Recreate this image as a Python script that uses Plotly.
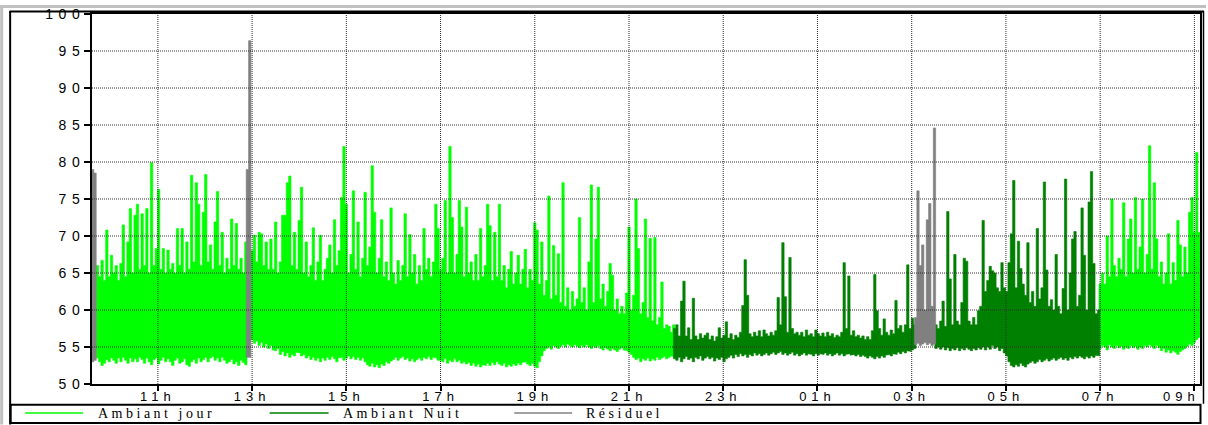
import plotly.graph_objects as go

# ---------------------------------------------------------------------------
# Niveaux sonores (dB) relevés par pas de 3 min : maximum et minimum de
# chaque pas, pour chaque période continue (heure de début du premier pas).
# ---------------------------------------------------------------------------
PAS_MIN = 3

jour1_debut = "09:43"
jour1_max = [66.0, 64.5, 66.7, 64.0, 70.8, 64.5,
             67.4, 65.0, 66.0, 64.0, 66.3, 71.5, 64.5, 69.2, 73.7, 65.0,
             72.8, 74.3, 65.5, 73.0, 66.0, 73.7, 65.0, 79.9, 66.0, 68.3,
             76.3, 65.5, 68.3, 65.0, 68.1, 65.5, 66.3, 65.0, 71.0, 66.0,
             71.0, 65.0, 69.2, 65.5, 78.2, 66.5, 77.2, 74.3, 66.0, 73.2,
             78.3, 66.5, 68.8, 65.5, 71.9, 76.0, 66.0, 70.5, 65.0, 67.0,
             65.5, 72.3, 66.0, 71.7, 65.5, 67.0, 65.0, 69.2]
jour1_min = [53.5, 53.0, 52.5, 52.8, 53.3, 53.0, 53.5, 53.2,
             52.8, 53.5, 53.0, 53.6, 53.2, 52.8, 53.5, 53.0,
             53.4, 53.0, 53.6, 53.3, 52.8, 53.5, 53.0, 52.6,
             53.3, 53.5, 52.7, 53.2, 53.6, 53.0, 53.4, 53.0,
             52.5, 53.2, 53.5, 52.8, 53.0, 53.4, 52.6, 52.4,
             53.0, 53.3, 52.8, 53.5, 53.0, 53.3, 53.6, 53.0,
             53.5, 53.7, 53.2, 53.5, 53.0, 53.6, 53.2, 52.8,
             53.0, 53.3, 52.7, 53.0, 52.5, 53.2, 52.9, 52.6]

jour2_debut = "13:00"
jour2_max = [
    68.0, 70.1, 66.5, 70.5, 70.3, 66.0, 69.2, 65.5, 69.6, 65.5,
    71.9, 65.0, 66.5, 72.8, 72.8, 77.2, 78.1, 66.0, 70.5, 65.5,
    72.1, 76.6, 65.0, 69.2, 64.5, 66.0, 71.1, 64.0, 66.5, 70.1,
    64.0, 65.5, 67.0, 68.8, 65.0, 72.2, 66.0, 68.0, 75.2, 82.1,
    74.3, 65.0, 67.5, 76.1, 65.5, 71.9, 64.5, 67.0, 75.9, 66.0,
    68.5, 79.5, 73.2, 65.0, 67.0, 72.2, 64.5, 66.5, 64.0, 73.8,
    65.0, 63.5, 66.7, 64.0, 66.0, 73.0, 64.5, 70.2, 65.0, 67.5,
    63.5, 66.0, 64.0, 71.0, 65.5, 67.0, 64.5, 66.5, 74.3, 71.0,
    65.5, 67.0, 74.8, 65.0, 82.1, 72.5, 65.0, 67.5, 74.8, 71.2,
    64.5, 73.9, 65.0, 66.5, 64.0, 67.5, 64.0, 71.0, 64.5, 66.0,
    74.3, 71.4, 64.0, 70.5, 64.5, 74.3, 64.0, 66.0, 63.0, 65.5,
    67.9, 63.5, 65.0, 67.4, 63.5, 65.5, 68.2, 63.0, 65.5, 64.0,
    71.8, 70.8, 63.5, 69.2, 62.0, 64.0, 75.4, 61.5, 68.7, 62.0,
    67.6, 61.0, 77.2, 60.5, 63.0, 60.0, 62.5, 60.5, 61.5, 72.5,
    61.0, 63.0, 60.0, 66.5, 76.9, 61.0, 69.6, 76.6, 61.5, 63.5,
    60.5, 62.5, 66.3, 64.7, 60.0, 61.5, 59.5, 60.5, 59.5, 62.3,
    71.2, 60.0, 62.0, 75.0, 68.3, 59.5, 61.0, 72.3, 59.0, 69.7,
    58.5, 69.8, 58.0, 59.0, 63.8, 57.5, 58.0, 57.8, 57.0, 58.0]
jour2_min = [
    56.0, 55.5, 55.8, 55.2, 55.6, 55.0, 55.4, 54.8, 55.2, 54.6,
    54.5, 54.8, 54.0, 54.4, 53.8, 54.2, 53.6, 54.0, 53.8, 54.3,
    54.2, 53.8, 54.0, 53.5, 53.8, 53.3, 53.6, 53.2, 53.5, 53.0,
    53.5, 53.2, 53.6, 53.3, 53.7, 53.4, 53.0, 53.5, 53.6, 53.2,
    53.5, 53.8, 53.4, 53.7, 53.3, 53.6, 53.2, 53.5, 53.0, 52.6,
    52.4, 52.8, 52.3, 52.6, 52.2, 52.7, 52.5, 53.0, 52.8, 53.1,
    53.3, 53.6, 53.2, 53.5, 53.7, 53.3, 53.5, 53.1, 53.4, 53.0,
    53.3, 53.5, 53.2, 53.6, 53.4, 53.7, 53.3, 53.6, 53.5, 53.2,
    53.2, 53.0, 53.4, 52.8, 53.2, 53.0, 53.4, 53.0, 53.2, 52.8,
    53.0, 52.7, 52.9, 52.5, 52.8, 52.4, 52.7, 52.3, 52.6, 52.5,
    52.8, 52.5, 52.9, 52.6, 53.0, 52.7, 52.5, 52.8, 52.3, 52.6,
    52.4, 52.7, 52.5, 52.8, 52.6, 52.9, 53.0, 52.7, 52.5, 52.8,
    52.4, 52.2, 53.0, 53.8, 54.5, 54.8, 55.0, 54.7, 55.2, 55.0,
    54.8, 55.1, 55.3, 55.0, 55.4, 55.2, 55.0, 55.3, 55.1, 54.9,
    55.2, 55.0, 55.3, 55.0, 54.8, 55.1, 54.9, 55.2, 54.8, 54.6,
    54.9, 54.7, 54.5, 54.8, 54.6, 54.4, 54.7, 54.9, 54.6, 54.5,
    54.3, 54.0, 53.6, 53.3, 53.5, 53.0, 53.4, 53.2, 53.5, 53.1,
    53.4, 53.2, 53.6, 53.3, 53.5, 53.7, 53.4, 53.6, 53.8, 53.7]

jour3_debut = "07:00"
jour3_max = [
    63.5, 65.0, 63.5, 70.0, 64.5, 75.0, 66.0, 64.5, 67.0, 65.5,
    74.5, 64.5, 69.6, 72.3, 65.0, 75.2, 65.5, 68.5, 75.0, 65.0,
    67.5, 82.2, 65.5, 77.2, 69.6, 64.5, 66.5, 63.5, 65.0, 70.3,
    63.5, 66.4, 64.0, 72.1, 68.8, 64.5, 68.5, 65.0, 73.2, 75.2,
    70.5, 81.3, 70.5]
jour3_min = [
    54.8, 55.2, 55.0, 54.6, 55.3, 55.0, 54.8, 55.2, 54.9, 55.1,
    54.7, 55.0, 54.8, 55.2, 54.9, 55.1, 54.7, 55.0, 54.8, 55.2,
    55.0, 55.3, 55.1, 54.8, 55.2, 54.9, 54.5, 54.8, 54.3, 54.6,
    54.2, 54.5, 54.3, 54.0, 54.4, 54.6, 54.8, 55.1, 55.4, 55.2,
    55.6, 56.0, 56.3]

nuit1_debut = "21:58"
nuit1_max = [
    57.5,
    58.0, 56.5, 61.2, 63.9, 56.5, 57.6, 56.0, 61.6, 56.5, 56.0,
    56.8, 56.2, 56.6, 56.9, 56.0, 56.5, 55.8, 56.4, 57.6, 56.2,
    56.6, 58.4, 56.2, 56.8, 56.0, 56.6, 56.3, 57.0, 60.6, 66.8,
    62.0, 56.8, 56.4, 57.0, 56.5, 57.2, 56.4, 57.3, 56.8, 56.5,
    57.0, 56.6, 57.2, 61.7, 58.0, 69.1, 61.8, 57.0, 67.1, 57.5,
    56.8, 57.0, 56.6, 57.0, 56.4, 57.3, 56.6, 56.8, 56.4, 57.3,
    56.8, 56.5, 56.9, 56.4, 57.0, 56.5, 56.8, 56.3, 56.6, 56.4,
    57.0, 66.4, 57.5, 64.6, 56.6, 57.2, 56.4, 56.6, 56.2, 56.5,
    56.0, 56.4, 56.0, 57.2, 64.8, 59.9, 57.5, 56.6, 58.8, 57.0,
    56.6, 57.3, 56.8, 61.3, 57.5, 57.9, 57.0, 58.0, 66.1, 57.5,
    58.9, 58.0]
nuit1_min = [
    53.4,
    53.2, 53.6, 53.0, 53.4, 53.7, 53.3, 53.5, 53.0, 53.6, 53.4,
    53.8, 53.2, 53.5, 53.7, 53.4, 53.6, 53.1, 53.5, 53.3, 53.6,
    53.0, 53.4, 53.6, 53.9, 53.5, 54.0, 53.7, 54.1, 53.8, 54.0,
    53.6, 54.0, 53.8, 54.2, 53.9, 54.1, 53.8, 54.0, 54.2, 53.9,
    54.1, 54.3, 54.0, 54.2, 54.4, 54.0, 54.2, 53.9, 54.1, 54.3,
    53.9, 54.1, 53.8, 54.0, 54.2, 53.9, 54.1, 54.0, 53.8, 54.1,
    53.9, 54.1, 54.0, 54.2, 53.9, 54.1, 53.8, 54.0, 54.2, 53.9,
    54.1, 53.8, 54.0, 54.1, 53.9, 54.0, 53.8, 54.0, 53.7, 53.9,
    53.7, 53.5, 53.8, 53.6, 53.4, 53.7, 53.5, 53.8, 53.6, 53.9,
    54.0, 53.8, 54.1, 54.0, 54.3, 54.1, 54.4, 54.2, 54.5, 54.4,
    54.6, 54.8]

nuit2_debut = "03:31"
nuit2_max = [
    58.0, 57.5, 58.5, 61.2, 57.8, 73.3, 64.2, 58.0, 67.5, 58.5,
    58.0, 61.0, 67.0, 66.6, 58.5, 58.0, 59.0, 58.0, 59.9, 60.5,
    72.1, 62.5, 64.0, 65.9, 65.3, 65.0, 63.0, 62.5, 66.4, 63.0,
    62.5, 66.4, 70.3, 77.5, 63.0, 69.3, 65.6, 63.5, 62.0, 69.1,
    61.0, 62.5, 60.5, 71.0, 61.5, 63.0, 77.3, 65.4, 60.5, 61.4,
    60.0, 67.5, 60.5, 59.5, 62.9, 77.7, 60.0, 65.0, 69.6, 70.6,
    60.5, 62.0, 73.8, 67.4, 60.0, 74.6, 78.7, 66.3, 59.5, 60.0]
nuit2_min = [
    54.8, 55.0, 54.7, 55.0, 54.6, 54.9, 54.5, 54.8, 54.6, 54.9,
    54.5, 54.8, 54.6, 54.9, 54.7, 54.5, 54.8, 54.6, 54.9, 54.7,
    55.0, 54.6, 55.0, 54.7, 55.2, 54.8, 55.0, 54.5, 54.8, 54.2,
    53.8, 53.0, 52.5, 52.3, 52.6, 52.4, 52.8, 52.5, 52.3, 52.7,
    52.9, 53.1, 52.8, 53.0, 53.3, 53.0, 53.2, 53.4, 53.1, 53.3,
    53.5, 53.2, 53.4, 53.6, 53.3, 53.5, 53.2, 53.6, 53.4, 53.7,
    53.5, 53.8, 53.6, 53.4, 53.7, 53.5, 53.8, 53.6, 53.9, 53.8]

resid1_debut = "09:37"
resid1_max = [79.0, 78.5]
resid1_min = [53.0, 53.2]
resid2_debut = "12:54"
resid2_max = [79.0, 96.4]
resid2_min = [53.6, 53.6]
resid3_debut = "03:05"
resid3_max = [59.0, 76.1, 66.0, 68.8, 60.0, 72.2, 74.4, 60.5, 84.6]
resid3_min = [55.3, 55.5, 55.2, 55.4, 55.6, 55.3, 55.5, 55.2, 55.4]

heures_ticks = ["11h", "13h", "15h", "17h", "19h", "21h", "23h",
                "01h", "03h", "05h", "07h", "09h"]
db_ticks = [50, 55, 60, 65, 70, 75, 80, 85, 90, 95, 100]

series = [
    ("Ambiant jour", "#00FF00", [(jour1_debut, jour1_min, jour1_max),
                                 (jour2_debut, jour2_min, jour2_max),
                                 (jour3_debut, jour3_min, jour3_max)]),
    ("Ambiant Nuit", "#008000", [(nuit1_debut, nuit1_min, nuit1_max),
                                 (nuit2_debut, nuit2_min, nuit2_max)]),
    ("Résiduel", "#808080", [(resid1_debut, resid1_min, resid1_max),
                             (resid2_debut, resid2_min, resid2_max),
                             (resid3_debut, resid3_min, resid3_max)]),
]

# ---------------------------------------------------------------------------
W, H = 1208, 425
PL, PR, PT, PB = 92, 1202, 9, 384          # plot area in pixels
T_MIN, T_MAX = 9.602, 33.119               # hours from midnight of day 1


def heure(s):
    """'HH:MM' -> hours since midnight of the first day (night wraps past 24)."""
    h, m = map(int, s.split(":"))
    v = h + m / 60
    return v + 24 if v < 9.5 else v


def enveloppe(periodes):
    """Stepped min/max outline of each period, as one closed shape per period."""
    demi = PAS_MIN / 120
    xs, ys = [], []
    for debut, mins, maxs in periodes:
        assert len(mins) == len(maxs)
        t0 = heure(debut)
        centres = [t0 + k * PAS_MIN / 60 for k in range(len(maxs))]
        haut_x, haut_y, bas_x, bas_y = [], [], [], []
        for c, lo, hi in zip(centres, mins, maxs):
            haut_x += [c - demi, c + demi]
            haut_y += [hi, hi]
            bas_x += [c - demi, c + demi]
            bas_y += [lo, lo]
        xs += haut_x + bas_x[::-1] + [haut_x[0], None]
        ys += haut_y + bas_y[::-1] + [haut_y[0], None]
    return xs, ys


fig = go.Figure()
for nom, col, periodes in series:
    x, y = enveloppe(periodes)
    fig.add_trace(go.Scatter(x=x, y=y, mode="lines", fill="toself", fillcolor=col,
                             line=dict(color=col, width=0.6),
                             name=nom, showlegend=False, hoverinfo="skip"))


def px(x):
    return (x - PL) / (PR - PL)


def py(y):
    return (PB - y) / (PB - PT)


def spaced(txt, ls):
    return f'<span style="letter-spacing:{ls}px">{txt}</span>'


GRID = dict(color="#303030", width=1, dash="1px,1px")
shapes = []
for v in db_ticks[1:-1]:
    shapes.append(dict(type="line", xref="paper", yref="y", x0=0, x1=1, y0=v, y1=v,
                       line=GRID, layer="above"))
tick_x = [11 + 2 * k for k in range(len(heures_ticks))]
for xv in tick_x:
    shapes.append(dict(type="line", xref="x", yref="paper", x0=xv, x1=xv, y0=0, y1=1,
                       line=GRID, layer="above"))

# outer frame
shapes += [
    dict(type="rect", xref="paper", yref="paper", x0=px(0), x1=px(3), y0=py(0), y1=py(H),
         fillcolor="#c0c0c0", line=dict(width=0), layer="above"),
    dict(type="rect", xref="paper", yref="paper", x0=px(0), x1=px(W), y0=py(0), y1=py(3),
         fillcolor="#c0c0c0", line=dict(width=0), layer="above"),
    dict(type="line", xref="paper", yref="paper", x0=px(9.5), x1=px(1206), y0=py(6.5), y1=py(6.5),
         line=dict(color="black", width=2), layer="above"),
    dict(type="line", xref="paper", yref="paper", x0=px(10), x1=px(10), y0=py(6), y1=py(H),
         line=dict(color="black", width=2), layer="above"),
    dict(type="line", xref="paper", yref="paper", x0=px(1205.5), x1=px(1205.5), y0=py(6), y1=py(404),
         line=dict(color="black", width=1.5), layer="above"),
    dict(type="rect", xref="paper", yref="paper", x0=px(10.5), x1=px(1202.5), y0=py(405), y1=py(423.5),
         line=dict(color="black", width=2), fillcolor="rgba(0,0,0,0)", layer="above"),
]

# legend row
legend = [("Ambiant jour", "#00FF00", 25, 83, 96),
          ("Ambiant Nuit", "#008000", 270, 329, 341),
          ("Résiduel", "#808080", 515, 573, 585)]
annotations = []
for nom, col, l0, l1, tx in legend:
    shapes.append(dict(type="line", xref="paper", yref="paper", x0=px(l0), x1=px(l1),
                       y0=py(413.5), y1=py(413.5), line=dict(color=col, width=1.5), layer="above"))
    annotations.append(dict(xref="paper", yref="paper", x=px(tx), y=py(414), text=spaced(nom, 3.5),
                            xanchor="left", yanchor="middle", showarrow=False,
                            font=dict(family="Liberation Serif", size=14, color="black")))

TICKFONT = dict(family="Liberation Sans", size=13, color="black")
# last hour label sits pulled inside the right edge
annotations.append(dict(xref="paper", yref="paper", x=px(1183), y=py(397),
                        text=spaced(heures_ticks[-1], 5), xanchor="center", yanchor="middle",
                        showarrow=False, font=TICKFONT))

fig.update_layout(
    width=W, height=H, autosize=False,
    margin=dict(l=PL, r=W - PR, t=PT, b=H - PB, pad=0),
    plot_bgcolor="white", paper_bgcolor="white",
    showlegend=False, shapes=shapes, annotations=annotations,
)
fig.update_xaxes(range=[T_MIN, T_MAX], tickvals=tick_x,
                 ticktext=[spaced(s, 5) for s in heures_ticks[:-1]] + [""],
                 showgrid=False, zeroline=False, showline=True, linecolor="black", linewidth=2,
                 mirror=True, ticks="outside", ticklen=5, tickwidth=1.5, tickcolor="black",
                 ticklabelstandoff=-6, tickfont=TICKFONT)
fig.update_yaxes(range=[50, 100], tickvals=db_ticks,
                 ticktext=[spaced(str(v), 5.5) for v in db_ticks],
                 showgrid=False, zeroline=False, showline=True, linecolor="black", linewidth=2,
                 mirror=True, ticks="outside", ticklen=6, tickwidth=1.5, tickcolor="black",
                 ticklabelstandoff=-4, tickfont=dict(family="Liberation Sans", size=14, color="black"))

fig.write_html("out.html")
